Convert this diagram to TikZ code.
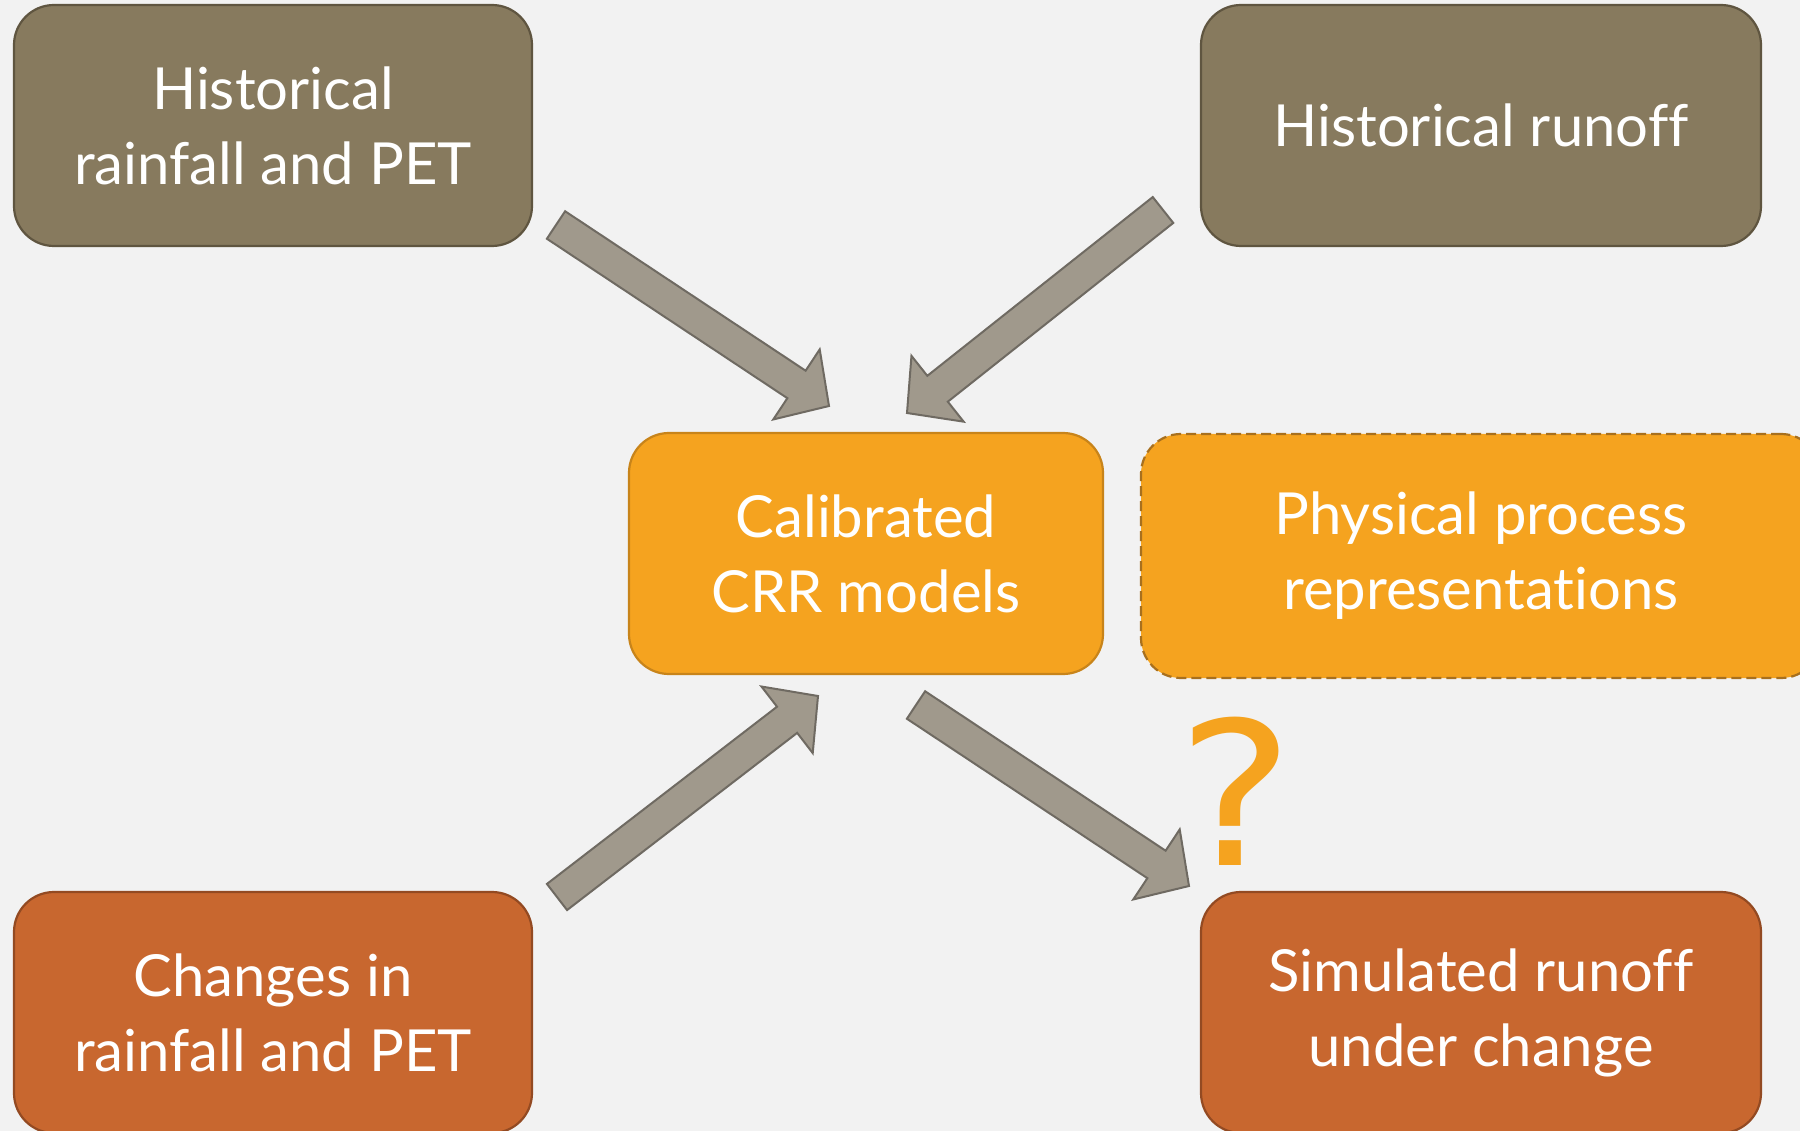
\documentclass[tikz,border=0pt]{standalone}
\usepackage{fontspec}
\setmainfont{Lato}[Ligatures={NoCommon}]
\newfontfamily\qfont{DejaVu Sans}
\usetikzlibrary{calc}
\definecolor{bg}{HTML}{F2F2F2}
\definecolor{brownfill}{HTML}{877A5E}
\definecolor{browndraw}{HTML}{5F5540}
\definecolor{orfill}{HTML}{F5A31F}
\definecolor{ordraw}{HTML}{C8841A}
\definecolor{dashdraw}{HTML}{A8701E}
\definecolor{rustfill}{HTML}{C8672F}
\definecolor{rustdraw}{HTML}{934A22}
\definecolor{arrfill}{HTML}{A0998C}
\definecolor{arrdraw}{HTML}{6F6A62}
\newcommand\blockarr[2]{%
  \coordinate (#1h) at ($(#2)!39pt!(#1)$);
  \draw[blockarrow]
    ($(#1)!16.5pt!90:(#2)$) -- ($(#1h)!16.5pt!90:(#2)$) -- ($(#1h)!42pt!90:(#2)$)
    -- (#2) -- ($(#1h)!42pt!-90:(#2)$) -- ($(#1h)!16.5pt!-90:(#2)$)
    -- ($(#1)!16.5pt!-90:(#2)$) -- cycle;}
\begin{document}
\begin{tikzpicture}[x=1pt,y=-1pt,
  box/.style={rectangle, rounded corners=40pt, line width=2.2pt, align=center,
    text=white, font=\fontsize{58}{75}\selectfont, inner sep=0pt},
  brownbox/.style={box, fill=brownfill, draw=browndraw},
  orbox/.style={box, fill=orfill, draw=ordraw},
  dashbox/.style={box, fill=orfill, draw=dashdraw, dash pattern=on 10pt off 5pt},
  rustbox/.style={box, fill=rustfill, draw=rustdraw},
  blockarrow/.style={fill=arrfill, draw=arrdraw, line width=2pt, line join=miter}]
\fill[bg] (0,0) rectangle (1800,1131);
\useasboundingbox (0,0) rectangle (1800,1131);
\clip (0,0) rectangle (1800,1131);

\node[brownbox, minimum width=518pt, minimum height=241pt] (hrp) at (273,125.5) {Historical\\rainfall and PET};
\node[brownbox, minimum width=560pt, minimum height=241pt] (hro) at (1481,125.5) {Historical runoff};
\node[orbox, minimum width=474pt, minimum height=241pt] (crr) at (866,553.5) {Calibrated\\CRR models};
\node[dashbox, minimum width=680pt, minimum height=244pt] (ppr) at (1481,556) {Physical process\\representations};
\node[rustbox, minimum width=518pt, minimum height=241pt] (crp) at (273,1012.5) {Changes in\\rainfall and PET};
\node[rustbox, minimum width=560pt, minimum height=241pt] (sru) at (1481,1012.5) {Simulated runoff\\under change};

\node[text=orfill, font=\qfont\fontsize{200}{200}\selectfont, inner sep=0pt, xscale=1.1] (q) at (1236,791) {?};

\coordinate (a1s) at (556,225);  \coordinate (a1e) at (829,406);
\coordinate (a2s) at (1163,210); \coordinate (a2e) at (907,413);
\coordinate (a3s) at (557,897);  \coordinate (a3e) at (818,696);
\coordinate (a4s) at (916,705);  \coordinate (a4e) at (1189,886);
\blockarr{a1s}{a1e}
\blockarr{a2s}{a2e}
\blockarr{a3s}{a3e}
\blockarr{a4s}{a4e}
\end{tikzpicture}
\end{document}
